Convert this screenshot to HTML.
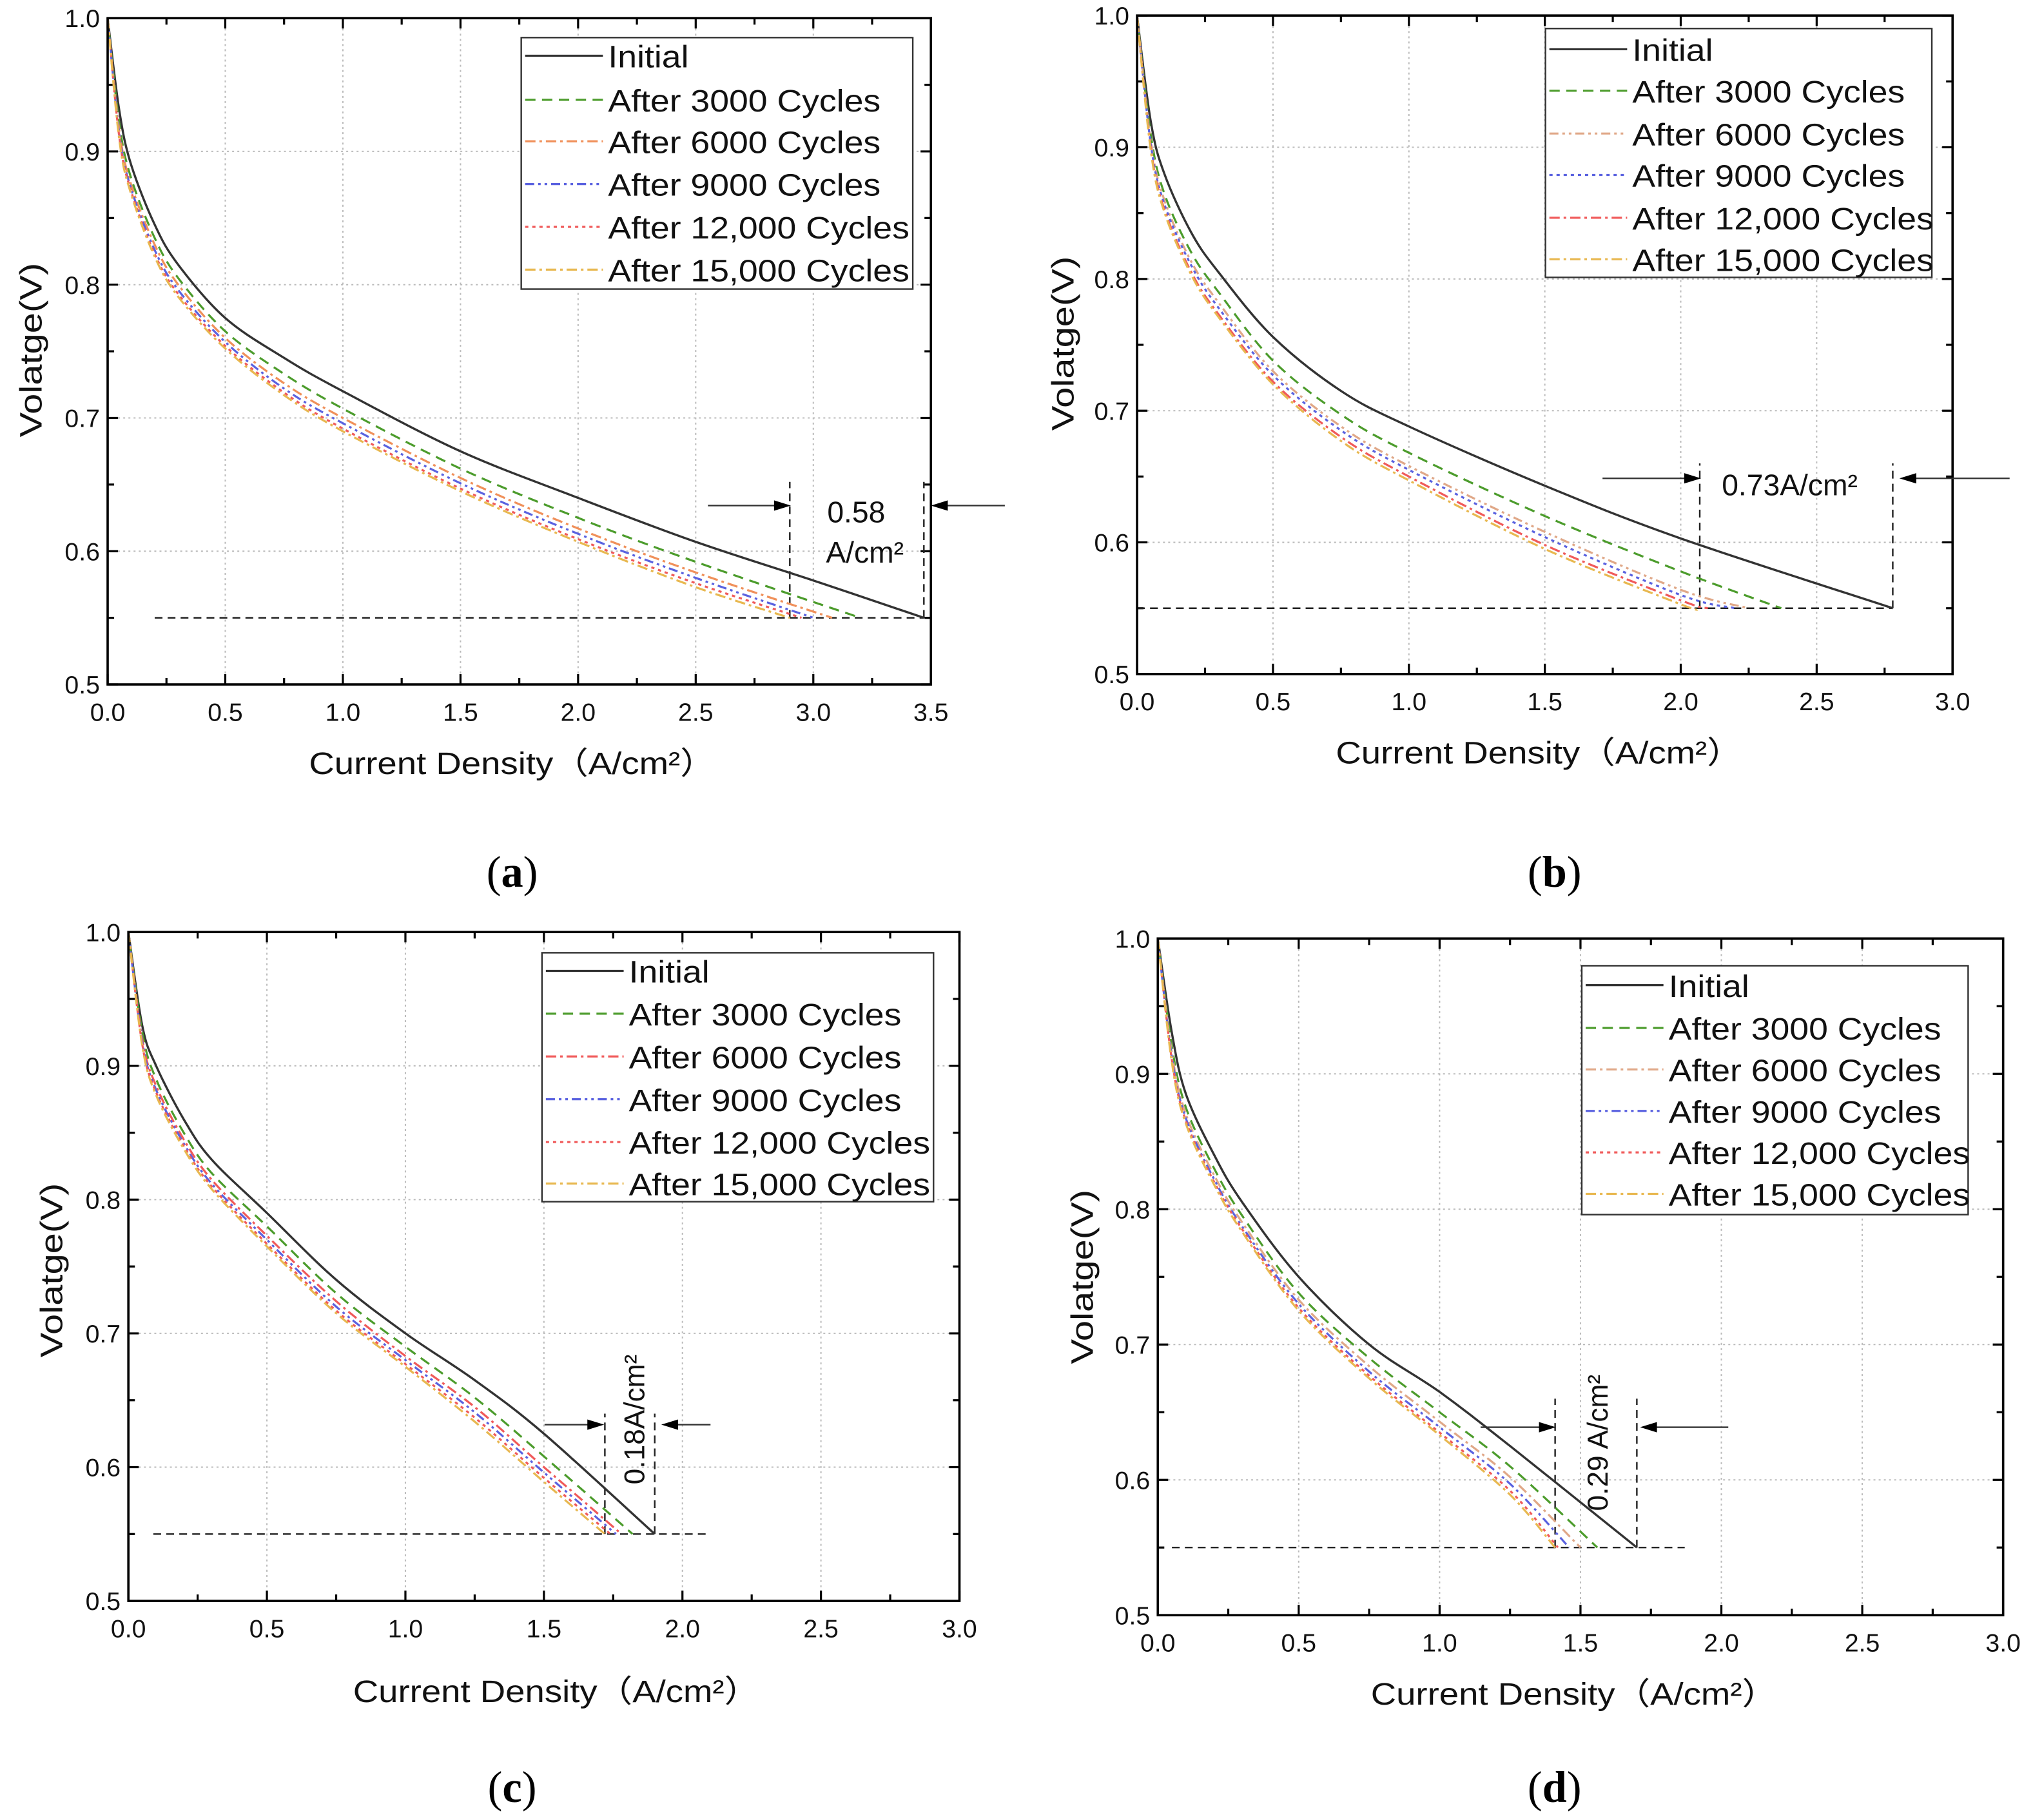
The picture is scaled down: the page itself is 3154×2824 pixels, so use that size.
<!DOCTYPE html>
<html><head><meta charset="utf-8">
<style>
html,body{margin:0;padding:0;background:#fff;}
svg{display:block;}
</style></head>
<body>
<svg id="fig" width="3154" height="2824" viewBox="0 0 1568 1404" xmlns="http://www.w3.org/2000/svg" style="font-family:'Liberation Sans','Noto Sans CJK SC',sans-serif"></svg>
<script>
// ---------- data ----------
const seriesNames = ["Initial","After 3000 Cycles","After 6000 Cycles","After 9000 Cycles","After 12,000 Cycles","After 15,000 Cycles"];
// panel a
const aCurrent = [0,0.05,0.1,0.2,0.3,0.5,0.75,1.0,1.5,2.0,2.5];
const aInitial = [1.0,0.93,0.89,0.845,0.815,0.775,0.745,0.72,0.675,0.64,0.607];
const a3000 = [1.0,0.92,0.88,0.835,0.805,0.765,0.733,0.707,0.662,0.625,0.592];
const a6000 = [1.0,0.915,0.875,0.83,0.80,0.76,0.726,0.70,0.655,0.617,0.584];
const a9000 = [1.0,0.912,0.872,0.826,0.796,0.757,0.722,0.696,0.651,0.613,0.58];
const a12000 = [1.0,0.91,0.87,0.823,0.793,0.754,0.719,0.692,0.647,0.609,0.576];
const a15000 = [1.0,0.908,0.868,0.821,0.791,0.752,0.717,0.69,0.645,0.607,0.573];
const aEnds = [3.47,3.2,3.08,3.0,2.95,2.9];
// panel b
const bCurrent = [0,0.05,0.1,0.2,0.3,0.5,0.75,1.0,1.5,2.0];
const bInitial = [1.0,0.92,0.88,0.835,0.805,0.756,0.715,0.688,0.643,0.603];
const b3000 = [1.0,0.91,0.865,0.82,0.79,0.738,0.697,0.668,0.62,0.578];
const b6000 = [1.0,0.905,0.86,0.813,0.782,0.73,0.688,0.658,0.608,0.564];
const b9000 = [1.0,0.903,0.857,0.81,0.778,0.727,0.685,0.655,0.604,0.56];
const b12000 = [1.0,0.9,0.853,0.805,0.773,0.722,0.68,0.65,0.598,0.556];
const b15000 = [1.0,0.898,0.851,0.803,0.771,0.72,0.677,0.647,0.595,0.553];
const bEnds = [2.78,2.37,2.25,2.2,2.1,2.06];
// panel c
const cCurrent = [0,0.05,0.1,0.2,0.3,0.5,0.75,1.0,1.25,1.5];
const cInitial = [1.0,0.93,0.9,0.86,0.83,0.79,0.74,0.70,0.665,0.625];
const c3000 = [1.0,0.925,0.89,0.85,0.82,0.78,0.73,0.69,0.652,0.608];
const c6000 = [1.0,0.92,0.885,0.845,0.815,0.773,0.724,0.683,0.645,0.60];
const c9000 = [1.0,0.918,0.882,0.842,0.812,0.77,0.72,0.68,0.641,0.596];
const c12000 = [1.0,0.916,0.88,0.84,0.81,0.767,0.717,0.677,0.637,0.592];
const c15000 = [1.0,0.915,0.878,0.838,0.808,0.765,0.715,0.675,0.634,0.589];
const cEnds = [1.9,1.82,1.78,1.76,1.74,1.72];
// panel d
const dCurrent = [0,0.05,0.1,0.2,0.3,0.5,0.75,1.0,1.25];
const dInitial = [1.0,0.93,0.885,0.84,0.805,0.75,0.70,0.665,0.625];
const d3000 = [1.0,0.92,0.875,0.83,0.795,0.738,0.69,0.65,0.61];
const d6000 = [1.0,0.915,0.87,0.825,0.79,0.733,0.684,0.643,0.602];
const d9000 = [1.0,0.912,0.867,0.822,0.787,0.73,0.68,0.639,0.597];
const d12000 = [1.0,0.91,0.865,0.82,0.785,0.727,0.677,0.635,0.592];
const d15000 = [1.0,0.908,0.863,0.818,0.783,0.725,0.675,0.633,0.589];
const dEnds = [1.7,1.56,1.5,1.46,1.42,1.41];
const endVoltage = 0.55;
const yTicks = [0.5,0.6,0.7,0.8,0.9,1.0];
const xTicksA = [0,0.5,1.0,1.5,2.0,2.5,3.0,3.5];
const xTicksB = [0,0.5,1.0,1.5,2.0,2.5,3.0];

const NS="http://www.w3.org/2000/svg";
const svg=document.getElementById('fig');
function mk(tag,attrs,parent,txt){const e=document.createElementNS(NS,tag);for(const k in attrs)e.setAttribute(k,attrs[k]);if(txt!==undefined)e.textContent=txt;(parent||svg).appendChild(e);return e;}
function stretch(e,f){const w=e.getComputedTextLength();if(w>0){e.setAttribute('textLength',(w*f).toFixed(1));e.setAttribute('lengthAdjust','spacingAndGlyphs');}}
function smooth(pts){
  let d="M"+pts[0][0].toFixed(1)+","+pts[0][1].toFixed(1);
  for(let i=0;i<pts.length-1;i++){
    const p0=pts[Math.max(0,i-1)],p1=pts[i],p2=pts[i+1],p3=pts[Math.min(pts.length-1,i+2)];
    const c1=[p1[0]+(p2[0]-p0[0])/6,p1[1]+(p2[1]-p0[1])/6];
    const c2=[p2[0]-(p3[0]-p1[0])/6,p2[1]-(p3[1]-p1[1])/6];
    d+="C"+c1[0].toFixed(1)+","+c1[1].toFixed(1)+" "+c2[0].toFixed(1)+","+c2[1].toFixed(1)+" "+p2[0].toFixed(1)+","+p2[1].toFixed(1);
  }
  return d;
}

const C={k:"#333",g:"#4c9c2c",o:"#f0905a",tan:"#e0a888",b:"#5a62e0",r:"#f05a5a",y:"#e8b850"};
const SOLID="", DASH="8,5", DD="8,3,2,3", DDD="7,3,2,3,2,3", DOT="2.5,3";
const panels=[
 {id:"a",L:83,R:718,T:14,B:528,xmax:3.5,xt:xTicksA,cur:aCurrent,vals:[aInitial,a3000,a6000,a9000,a12000,a15000],ends:aEnds,
  styles:[[C.k,SOLID],[C.g,DASH],[C.o,DD],[C.b,DDD],[C.r,DOT],[C.y,DD]],
  leg:{x:402,y:29,w:302,h:194,rows:[43,77,109,142,175,208]},
  hl:[0.2,3.47],vl:[2.9,3.47],vtop:0.652,arrowY:390,arrL:[546,610],arrR:[775,718],
  xtitle:[395,597],ytitle:[24,270],cap:[395,684]},
 {id:"b",L:877,R:1506,T:12,B:520,xmax:3.0,xt:xTicksB,cur:bCurrent,vals:[bInitial,b3000,b6000,b9000,b12000,b15000],ends:bEnds,
  styles:[[C.k,SOLID],[C.g,DASH],[C.tan,DDD],[C.b,DOT],[C.r,DD],[C.y,DD]],
  leg:{x:1192,y:22,w:298,h:192,rows:[38,70,103,135,168,200]},
  hl:[0,2.78],vl:[2.07,2.78],vtop:0.66,arrowY:369,arrL:[1236,1312],arrR:[1550,1465],
  xtitle:[1187,589],ytitle:[820,265],cap:[1199,684]},
 {id:"c",L:99,R:740,T:719,B:1235,xmax:3.0,xt:xTicksB,cur:cCurrent,vals:[cInitial,c3000,c6000,c9000,c12000,c15000],ends:cEnds,
  styles:[[C.k,SOLID],[C.g,DASH],[C.r,DD],[C.b,DDD],[C.r,DOT],[C.y,DD]],
  leg:{x:418,y:735,w:302,h:192,rows:[749,782,815,848,881,913]},
  hl:[0.09,2.1],vl:[1.72,1.9],vtop:0.64,arrowY:1099,arrL:[420,466],arrR:[548,510],
  xtitle:[429,1313],ytitle:[40,980],cap:[395,1390]},
 {id:"d",L:893,R:1545,T:724,B:1246,xmax:3.0,xt:xTicksB,cur:dCurrent,vals:[dInitial,d3000,d6000,d9000,d12000,d15000],ends:dEnds,
  styles:[[C.k,SOLID],[C.g,DASH],[C.tan,DD],[C.b,DDD],[C.r,DOT],[C.y,DD]],
  leg:{x:1220,y:745,w:298,h:192,rows:[760,793,825,857,889,921]},
  hl:[0.05,1.87],vl:[1.41,1.7],vtop:0.66,arrowY:1101,arrL:[1142,1200],arrR:[1333,1265],
  xtitle:[1214,1315],ytitle:[835,985],cap:[1199,1390]}
];
const annText={a:null,b:"0.73A/cm²",c:"0.18A/cm²",d:"0.29 A/cm²"};

panels.forEach(p=>{
  const g=mk('g',{});
  
  
  const xs=v=>p.L+(v/p.xmax)*(p.R-p.L);
  const ys=v=>p.B-((v-0.5)/0.5)*(p.B-p.T);
  const grid=mk('g',{},g);
  
  
  p.xt.slice(1,-1).forEach(t=>mk('line',{x1:xs(t),x2:xs(t),y1:p.T,y2:p.B,stroke:"#bbb","stroke-width":1,"stroke-dasharray":"1.5,2.5"},grid));
  yTicks.slice(1,-1).forEach(t=>mk('line',{x1:p.L,x2:p.R,y1:ys(t),y2:ys(t),stroke:"#bbb","stroke-width":1,"stroke-dasharray":"1.5,2.5"},grid));
  const tk=mk('g',{stroke:"#000","stroke-width":1.6},g);
  
  
  for(let i=0;i<p.xt.length;i++){const t=p.xt[i];
    mk('line',{x1:xs(t),x2:xs(t),y1:p.B,y2:p.B-8},tk);mk('line',{x1:xs(t),x2:xs(t),y1:p.T,y2:p.T+8},tk);
    if(i<p.xt.length-1){const m=t+0.25;mk('line',{x1:xs(m),x2:xs(m),y1:p.B,y2:p.B-5},tk);mk('line',{x1:xs(m),x2:xs(m),y1:p.T,y2:p.T+5},tk);}
  }
  for(let i=0;i<yTicks.length;i++){const t=yTicks[i];
    mk('line',{x1:p.L,x2:p.L+8,y1:ys(t),y2:ys(t)},tk);mk('line',{x1:p.R,x2:p.R-8,y1:ys(t),y2:ys(t)},tk);
    if(i<yTicks.length-1){const m=t+0.05;mk('line',{x1:p.L,x2:p.L+5,y1:ys(m),y2:ys(m)},tk);mk('line',{x1:p.R,x2:p.R-5,y1:ys(m),y2:ys(m)},tk);}
  }
  p.xt.forEach(t=>{const e=mk('text',{x:xs(t),y:p.B+28,"font-size":19.5,"text-anchor":"middle",fill:"#111"},g,t.toFixed(1));
    
    });
  yTicks.forEach(t=>{const e=mk('text',{x:p.L-6,y:ys(t)+7,"font-size":19.5,"text-anchor":"end",fill:"#111"},g,t.toFixed(1));
    
    });
  const hl=mk('line',{x1:xs(p.hl[0]),x2:xs(p.hl[1]),y1:ys(endVoltage),y2:ys(endVoltage),stroke:"#222","stroke-width":1.2,"stroke-dasharray":"6,4"},g);
  
  
  p.vl.forEach(v=>{const e=mk('line',{x1:xs(v),x2:xs(v),y1:ys(endVoltage),y2:ys(p.vtop),stroke:"#222","stroke-width":1.2,"stroke-dasharray":"6,4"},g);
    
    });
  p.vals.forEach((vals,si)=>{
    const pts=vals.map((v,i)=>[xs(p.cur[i]),ys(v)]);
    if(p.id==="a"&&si===0) pts.push([xs(3.0),ys(0.578)]);
    pts.push([xs(p.ends[si]),ys(endVoltage)]);
    const st=p.styles[si];
    const e=mk('path',{d:smooth(pts),fill:"none",stroke:st[0],"stroke-width":si===0?1.7:1.6,"stroke-dasharray":st[1]||"none"},g);
    
    
  });
  const fr=mk('rect',{x:p.L,y:p.T,width:p.R-p.L,height:p.B-p.T,fill:"none",stroke:"#000","stroke-width":1.8},g);
  
  
  [[p.arrL[0],p.arrL[1]],[p.arrR[0],p.arrR[1]]].forEach(a=>{
    const ag=mk('g',{},g);
    
    
    const dir=a[1]>a[0]?1:-1;
    mk('line',{x1:a[0],x2:a[1]-dir*10,y1:p.arrowY,y2:p.arrowY,stroke:"#333","stroke-width":1.2},ag);
    mk('polygon',{points:`${a[1]},${p.arrowY} ${a[1]-dir*13},${p.arrowY-4} ${a[1]-dir*13},${p.arrowY+4}`,fill:"#000"},ag);
  });
  if(p.id==="a"){
    const t1=mk('text',{x:638,y:403,"font-size":23,fill:"#111"},g,"0.58");
    
    
    const t2=mk('text',{x:637,y:434,"font-size":23,fill:"#111"},g,"A/cm²");
    
    
  } else if(p.id==="b"){
    const t=mk('text',{x:1328,y:382,"font-size":23,fill:"#111"},g,annText.b);
    
    
  } else {
    const cx=p.id==="c"?497:1240, cy=p.id==="c"?1095:1113;
    const t=mk('text',{x:cx,y:cy,"font-size":22,fill:"#111","text-anchor":"middle",transform:`rotate(-90 ${cx} ${cy})`},g,annText[p.id]);
    
    
  }
  const lg=mk('g',{},g);
  
  
  mk('rect',{x:p.leg.x,y:p.leg.y,width:p.leg.w,height:p.leg.h,fill:"#fff",stroke:"#333","stroke-width":1.2},lg);
  p.leg.rows.forEach((ry,i)=>{
    const en=mk('g',{},lg);
    
    
    const st=p.styles[i];
    mk('line',{x1:p.leg.x+3,x2:p.leg.x+63,y1:ry,y2:ry,stroke:st[0],"stroke-width":1.6,"stroke-dasharray":st[1]||"none"},en);
    const t=mk('text',{x:p.leg.x+67,y:ry+9,"font-size":24,fill:"#111"},en,seriesNames[i]);
    stretch(t,1.11);
  });
  const xt=mk('text',{x:p.xtitle[0],y:p.xtitle[1],"font-size":24,"text-anchor":"middle",fill:"#111"},g,"Current Density（A/cm²）");
  
  
  stretch(xt,1.13);
  const yt=mk('text',{x:p.ytitle[0],y:p.ytitle[1],"font-size":24,"text-anchor":"middle",fill:"#111",transform:`rotate(-90 ${p.ytitle[0]} ${p.ytitle[1]})`,dy:8},g,"Volatge(V)");
  
  
  stretch(yt,1.2);
  const cap=mk('text',{x:p.cap[0],y:p.cap[1],"font-size":34,"text-anchor":"middle",fill:"#000",style:"font-family:'Liberation Serif',serif"},g);
  
  
  mk('tspan',{},cap,"(");
  mk('tspan',{"font-weight":"bold"},cap,p.id);
  mk('tspan',{},cap,")");
});
</script>
</body></html>
